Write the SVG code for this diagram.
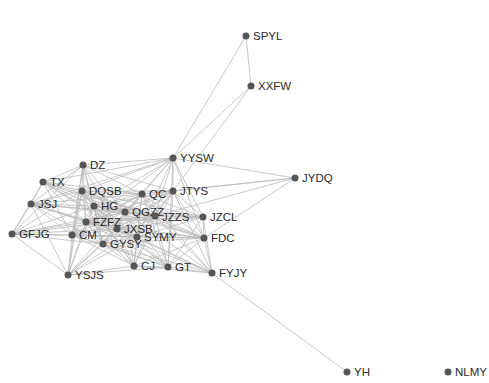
<svg xmlns="http://www.w3.org/2000/svg" width="489" height="383" viewBox="0 0 489 383">
<style>
.e{stroke:#b8b8b8;stroke-width:0.85;fill:none;stroke-opacity:0.9}
.n circle{fill:#555555}
.n text{font-family:"Liberation Sans",Arial,sans-serif;font-size:11.5px;fill:#2a2a2a}
</style>
<rect width="489" height="383" fill="#ffffff"/>
<g id="edges" class="e">
<path d="M246,36L251,86M246,36L173,158M251,86L173,158M251,86L173,191"/>
<path d="M173,158L295,178M173,158L173,191M173,158L142,194M173,158L82,191M173,158L83,165M173,158L94,206M173,158L125,212M173,158L155,216M173,158L203,217M173,158L204,238M173,158L43,182M173,158L86,222M173,158L137,237M173,158L31,204M173,158L168,267"/>
<path d="M295,178L173,191M295,178L142,194M295,178L155,216M295,178L204,238M212,273L347,372"/>
<path d="M83,165L43,182M83,165L82,191M83,165L94,206M83,165L142,194M83,165L125,212M83,165L86,222M83,165L72,235M83,165L31,204M83,165L12,234M83,165L68,275M83,165L117,229M83,165L173,191M83,165L103,244"/>
<path d="M43,182L31,204M43,182L82,191M43,182L94,206M43,182L125,212M43,182L142,194M43,182L86,222M43,182L72,235M43,182L12,234M43,182L155,216M43,182L117,229M43,182L137,237"/>
<path d="M31,204L12,234M31,204L82,191M31,204L94,206M31,204L86,222M31,204L72,235M31,204L125,212M31,204L117,229M31,204L103,244M31,204L68,275M31,204L142,194M31,204L155,216M31,204L137,237"/>
<path d="M12,234L72,235M12,234L94,206M12,234L86,222M12,234L125,212M12,234L68,275M12,234L82,191M12,234L117,229M12,234L137,237M12,234L103,244M12,234L155,216"/>
<path d="M82,191L142,194M82,191L94,206M82,191L125,212M82,191L173,191M82,191L155,216M82,191L86,222M82,191L117,229M82,191L72,235M82,191L137,237M82,191L103,244M82,191L203,217M82,191L204,238M82,191L68,275M82,191L134,266"/>
<path d="M142,194L173,191M142,194L94,206M142,194L125,212M142,194L155,216M142,194L86,222M142,194L117,229M142,194L137,237M142,194L203,217M142,194L204,238M142,194L103,244M142,194L134,266M142,194L168,267M142,194L212,273M142,194L72,235"/>
<path d="M173,191L125,212M173,191L155,216M173,191L203,217M173,191L204,238M173,191L137,237M173,191L117,229M173,191L94,206M173,191L86,222M173,191L168,267M173,191L212,273M173,191L134,266M173,191L103,244"/>
<path d="M94,206L125,212M94,206L155,216M94,206L86,222M94,206L117,229M94,206L72,235M94,206L137,237M94,206L103,244M94,206L203,217M94,206L204,238M94,206L134,266M94,206L68,275M94,206L168,267"/>
<path d="M125,212L155,216M125,212L203,217M125,212L86,222M125,212L117,229M125,212L137,237M125,212L72,235M125,212L103,244M125,212L204,238M125,212L134,266M125,212L168,267M125,212L212,273M125,212L68,275"/>
<path d="M155,216L203,217M155,216L204,238M155,216L86,222M155,216L117,229M155,216L137,237M155,216L103,244M155,216L72,235M155,216L134,266M155,216L168,267M155,216L212,273M155,216L68,275"/>
<path d="M203,217L204,238M203,217L212,273M203,217L137,237M203,217L117,229M203,217L168,267M203,217L86,222"/>
<path d="M86,222L117,229M86,222L72,235M86,222L137,237M86,222L103,244M86,222L134,266M86,222L168,267M86,222L68,275M86,222L204,238M86,222L212,273"/>
<path d="M117,229L137,237M117,229L72,235M117,229L103,244M117,229L134,266M117,229L168,267M117,229L204,238M117,229L212,273M117,229L68,275"/>
<path d="M72,235L103,244M72,235L68,275M72,235L134,266M72,235L137,237M72,235L204,238M72,235L168,267"/>
<path d="M137,237L103,244M137,237L204,238M137,237L134,266M137,237L168,267M137,237L212,273M137,237L68,275"/>
<path d="M204,238L168,267M204,238L212,273M204,238L134,266M204,238L103,244"/>
<path d="M103,244L134,266M103,244L68,275M103,244L168,267M103,244L212,273"/>
<path d="M134,266L168,267M134,266L68,275M134,266L212,273M168,267L212,273M168,267L68,275"/>
</g>
<g id="SPYL" class="n"><circle cx="246" cy="36" r="3.5"/><text x="253" y="40">SPYL</text></g>
<g id="XXFW" class="n"><circle cx="251" cy="86" r="3.5"/><text x="258" y="90">XXFW</text></g>
<g id="YYSW" class="n"><circle cx="173" cy="158" r="3.5"/><text x="180" y="162">YYSW</text></g>
<g id="JYDQ" class="n"><circle cx="295" cy="178" r="3.5"/><text x="302" y="182">JYDQ</text></g>
<g id="DZ" class="n"><circle cx="83" cy="165" r="3.5"/><text x="90" y="169">DZ</text></g>
<g id="TX" class="n"><circle cx="43" cy="182" r="3.5"/><text x="50" y="186">TX</text></g>
<g id="DQSB" class="n"><circle cx="82" cy="191" r="3.5"/><text x="89" y="195">DQSB</text></g>
<g id="QC" class="n"><circle cx="142" cy="194" r="3.5"/><text x="149" y="198">QC</text></g>
<g id="JTYS" class="n"><circle cx="173" cy="191" r="3.5"/><text x="180" y="195">JTYS</text></g>
<g id="JSJ" class="n"><circle cx="31" cy="204" r="3.5"/><text x="38" y="208">JSJ</text></g>
<g id="HG" class="n"><circle cx="94" cy="206" r="3.5"/><text x="101" y="210">HG</text></g>
<g id="QGZZ" class="n"><circle cx="125" cy="212" r="3.5"/><text x="132" y="216">QGZZ</text></g>
<g id="JZZS" class="n"><circle cx="155" cy="216" r="3.5"/><text x="162" y="221">JZZS</text></g>
<g id="JZCL" class="n"><circle cx="203" cy="217" r="3.5"/><text x="210" y="221">JZCL</text></g>
<g id="FZFZ" class="n"><circle cx="86" cy="222" r="3.5"/><text x="93" y="226">FZFZ</text></g>
<g id="JXSB" class="n"><circle cx="117" cy="229" r="3.5"/><text x="124" y="233">JXSB</text></g>
<g id="GFJG" class="n"><circle cx="12" cy="234" r="3.5"/><text x="19" y="238">GFJG</text></g>
<g id="CM" class="n"><circle cx="72" cy="235" r="3.5"/><text x="79" y="239">CM</text></g>
<g id="SYMY" class="n"><circle cx="137" cy="237" r="3.5"/><text x="144" y="241">SYMY</text></g>
<g id="FDC" class="n"><circle cx="204" cy="238" r="3.5"/><text x="211" y="242">FDC</text></g>
<g id="GYSY" class="n"><circle cx="103" cy="244" r="3.5"/><text x="110" y="248">GYSY</text></g>
<g id="CJ" class="n"><circle cx="134" cy="266" r="3.5"/><text x="141" y="270">CJ</text></g>
<g id="GT" class="n"><circle cx="168" cy="267" r="3.5"/><text x="175" y="271">GT</text></g>
<g id="FYJY" class="n"><circle cx="212" cy="273" r="3.5"/><text x="219" y="277">FYJY</text></g>
<g id="YSJS" class="n"><circle cx="68" cy="275" r="3.5"/><text x="75" y="279">YSJS</text></g>
<g id="YH" class="n"><circle cx="347" cy="372" r="3.5"/><text x="354" y="376">YH</text></g>
<g id="NLMY" class="n"><circle cx="448" cy="372" r="3.5"/><text x="455" y="376">NLMY</text></g>
</svg>
